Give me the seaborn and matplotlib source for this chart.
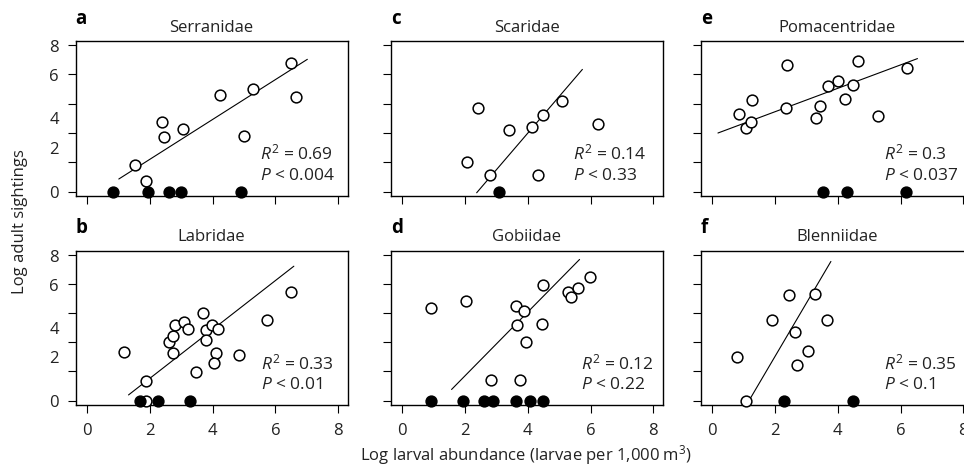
import numpy as np
import pandas as pd
import matplotlib
matplotlib.use("Agg")
import matplotlib.pyplot as plt
import seaborn as sns

# ---------------- data ----------------
letters = ["a", "b", "c", "d", "e", "f"]
titles = ["Serranidae", "Labridae", "Scaridae", "Gobiidae", "Pomacentridae", "Blenniidae"]
r2_text = ["0.69", "0.33", "0.14", "0.12", "0.3", "0.35"]
p_text = ["0.004", "0.01", "0.33", "0.22", "0.037", "0.1"]

a_open_x = [1.54, 1.88, 2.40, 2.44, 3.07, 4.22, 5.01, 5.30, 6.49, 6.67]
a_open_y = [1.44, 0.59, 3.78, 2.96, 3.41, 5.28, 3.06, 5.59, 7.04, 5.19]
a_zero_x = [0.83, 1.94, 2.60, 2.99, 4.90]
a_line_x = [1.01, 7.02]
a_line_y = [0.69, 7.22]

b_open_x = [1.19, 1.88, 1.88, 2.60, 2.75, 2.75, 2.81, 3.09, 3.20, 3.46, 3.68, 3.78,
            3.79, 3.99, 4.18, 4.11, 4.05, 4.84, 5.72, 6.49]
b_open_y = [2.69, 1.07, 0.00, 3.20, 3.56, 2.59, 4.17, 4.33, 3.94, 1.57, 4.78, 3.85,
            3.33, 4.17, 3.94, 2.59, 2.07, 2.48, 4.41, 5.96]
b_zero_x = [1.69, 2.26, 3.28]
b_line_x = [1.32, 6.59]
b_line_y = [0.31, 7.37]

c_open_x = [2.07, 2.42, 2.78, 3.40, 4.14, 4.48, 4.34, 5.08, 6.24]
c_open_y = [1.61, 4.59, 0.89, 3.39, 3.52, 4.20, 0.89, 4.96, 3.70]
c_zero_x = [3.08]
c_line_x = [2.37, 5.74]
c_line_y = [-0.06, 6.67]

d_open_x = [0.90, 2.02, 2.84, 3.63, 3.88, 3.65, 3.75, 3.94, 4.44, 4.48, 5.28, 5.37, 5.60, 5.97]
d_open_y = [5.09, 5.46, 1.11, 5.19, 4.94, 4.13, 1.11, 3.20, 4.20, 6.33, 5.93, 5.70, 6.20, 6.80]
d_zero_x = [0.92, 1.93, 2.60, 2.88, 3.63, 4.06, 4.48]
d_line_x = [1.57, 5.65]
d_line_y = [0.61, 7.74]

e_open_x = [0.85, 1.06, 1.22, 1.28, 2.37, 2.34, 3.30, 3.44, 3.70, 4.02, 4.22, 4.49, 4.63, 5.27, 6.20]
e_open_y = [4.26, 3.48, 3.80, 5.00, 6.89, 4.57, 4.02, 4.67, 5.78, 6.06, 5.07, 5.80, 7.13, 4.11, 6.74]
e_zero_x = [3.53, 4.28, 6.17]
e_line_x = [0.18, 6.54]
e_line_y = [3.20, 7.26]

f_open_x = [0.80, 1.06, 1.89, 2.46, 2.64, 2.71, 3.06, 3.28, 3.67]
f_open_y = [2.37, 0.00, 4.44, 5.81, 3.74, 1.93, 2.72, 5.87, 4.44]
f_zero_x = [2.30, 4.50]
f_line_x = [1.15, 3.78]
f_line_y = [-0.06, 7.63]

x_ticks = [0, 2, 4, 6, 8]
y_tick_marks = [0, 1.6, 3.2, 4.8, 6.4, 8.0]
y_label_pos = [0, 2.4, 4.0, 6.35, 7.95]
y_label_txt = ["0", "2", "4", "6", "8"]

panel_data = {
    "a": (a_open_x, a_open_y, a_zero_x, a_line_x, a_line_y),
    "b": (b_open_x, b_open_y, b_zero_x, b_line_x, b_line_y),
    "c": (c_open_x, c_open_y, c_zero_x, c_line_x, c_line_y),
    "d": (d_open_x, d_open_y, d_zero_x, d_line_x, d_line_y),
    "e": (e_open_x, e_open_y, e_zero_x, e_line_x, e_line_y),
    "f": (f_open_x, f_open_y, f_zero_x, f_line_x, f_line_y),
}

# ---------------- style ----------------
sns.set_theme(style="ticks")
plt.rcParams["font.family"] = ["Open Sans", "DejaVu Sans"]
plt.rcParams["mathtext.fontset"] = "custom"
plt.rcParams["mathtext.rm"] = "Open Sans"
plt.rcParams["mathtext.it"] = "Open Sans:italic"

W, H = 964, 470
fig = plt.figure(figsize=(W / 100, H / 100), dpi=100)

col_left = [75.5, 390.7, 700.7]
row_top = [41, 250.7]
row_bot = [195.7, 404.6]
ax_w = 272

layout = {"a": (0, 0), "b": (0, 1), "c": (1, 0), "d": (1, 1), "e": (2, 0), "f": (2, 1)}
text_x = {"a": 0.68, "b": 0.683, "c": 0.672, "d": 0.70, "e": 0.674, "f": 0.674}

fs = 12
fs_txt = 12.5
for letter, title, r2, p in zip(letters, titles, r2_text, p_text):
    c, r = layout[letter]
    left = col_left[c] / W
    bottom = 1 - row_bot[r] / H
    hpx = row_bot[r] - row_top[r]
    ax = fig.add_axes([left, bottom, ax_w / W, hpx / H])
    ox, oy, zx, lx, ly = panel_data[letter]

    df_open = pd.DataFrame({"x": ox, "y": oy})
    df_zero = pd.DataFrame({"x": zx, "y": [0.0] * len(zx)})
    df_line = pd.DataFrame({"x": lx, "y": ly})

    sns.lineplot(data=df_line, x="x", y="y", ax=ax, color="black", lw=0.8)
    sns.scatterplot(data=df_open, x="x", y="y", ax=ax, s=60, marker="o",
                    facecolor="white", edgecolor="black", linewidth=1.1,
                    clip_on=False, zorder=3)
    sns.scatterplot(data=df_zero, x="x", y="y", ax=ax, s=60, marker="o",
                    color="black", edgecolor="black", linewidth=1.1,
                    clip_on=False, zorder=4)

    ax.set_xlim(-0.37, 8.3)
    ax.set_ylim(-0.22, 8.22)
    ax.set_xlabel("")
    ax.set_ylabel("")
    for s in ax.spines.values():
        s.set_linewidth(1.0)
        s.set_color("black")

    ax.set_xticks(x_ticks)
    if r == 1:
        ax.set_xticklabels([str(t) for t in x_ticks])
    else:
        ax.set_xticklabels([])
    ax.set_yticks(y_tick_marks)
    ax.set_yticklabels([])
    ax.tick_params(axis="both", which="major", length=5.5, width=0.8,
                   direction="out", labelsize=fs, pad=7.5, color="black",
                   labelcolor="#222222")
    if c == 0:
        ax.yaxis.remove_overlapping_locs = False
        ax.set_yticks(y_label_pos, y_label_txt, minor=True)
        ax.tick_params(axis="y", which="minor", length=0, pad=12, labelsize=fs,
                       labelcolor="#222222")

    ax.text(0.5, 1.0 + 9.5 / hpx, title, transform=ax.transAxes,
            ha="center", va="baseline", fontsize=fs, color="#222222")
    ax.text(text_x[letter], 0.27, r"$R^2$ = " + r2, transform=ax.transAxes,
            ha="left", va="center", fontsize=fs_txt, color="#222222")
    ax.text(text_x[letter], 0.13, r"$P$ < " + p, transform=ax.transAxes,
            ha="left", va="center", fontsize=fs_txt, color="#222222")
    fig.text(col_left[c] / W, 1 - (row_top[r] - 22.5) / H, letter, fontsize=13.5,
             fontweight="bold", ha="left", va="center", color="black")

fig.text(20 / W, 1 - 222 / H, "Log adult sightings", rotation=90, ha="center",
         va="center", fontsize=fs, color="#222222")
fig.text(526 / W, 1 - 455 / H, "Log larval abundance (larvae per 1,000 m$^3$)",
         ha="center", va="center", fontsize=fs, color="#222222")

fig.savefig("out.png", dpi=100)
